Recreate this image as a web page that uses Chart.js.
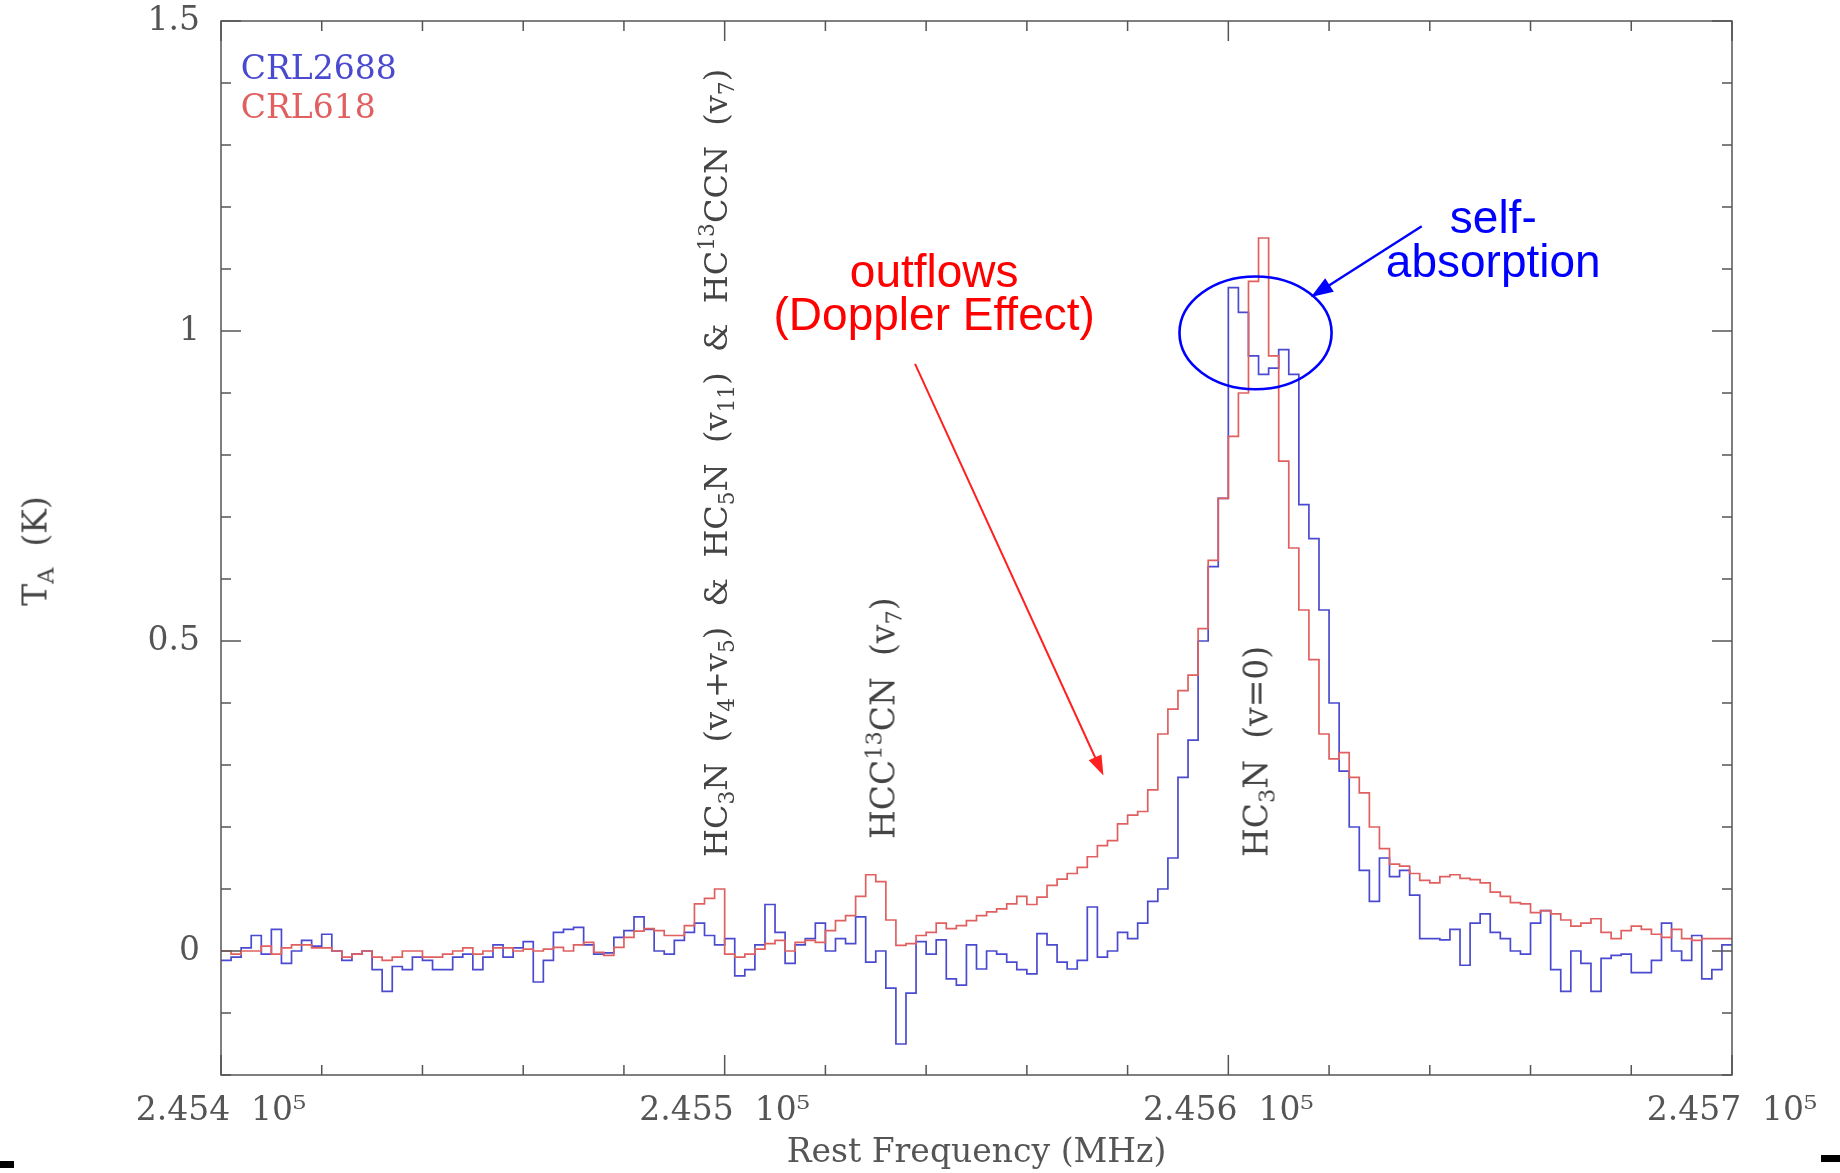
<!DOCTYPE html>
<html lang="en">
<head>
<meta charset="UTF-8">
<title>CRL2688 / CRL618 - HC3N</title>
<script src="https://cdn.jsdelivr.net/npm/chart.js"></script>
<style>
  html, body { margin: 0; padding: 0; background: #fff; }
  #wrap { position: relative; width: 1840px; height: 1173px; overflow: hidden; }
  #spec { position: absolute; left: 0; top: 0; }
  .note { position: absolute; white-space: pre; line-height: 1; }
  .serif { font-family: 'DejaVu Serif', serif; font-size: 33px; color: #444; }
  .sans { font-family: 'Liberation Sans', Arial, sans-serif; font-size: 46px; text-align: center; }
  .vert { transform-origin: 0 0; transform: rotate(-90deg) translateY(-50%); }
  .ctr { transform: translate(-50%, -50%); }
  .left { transform: translate(0, -50%); }
  sub, sup { font-size: 0.68em; line-height: 0; position: relative; vertical-align: baseline; }
  sub { top: 0.3em; }
  sup { top: -0.6em; }
  .mark { position: absolute; background: #000; }
</style>
</head>
<body>
<div id="wrap">
  <canvas id="spec" width="1840" height="1173"></canvas>

  <div class="note serif left" id="leg1" style="color:#4a4ad0">CRL2688</div>
  <div class="note serif left" id="leg2" style="color:#e06060">CRL618</div>

  <div class="note serif vert" id="lab1" style="font-size:32px">HC<sub>3</sub>N  (v<sub>4</sub>+v<sub>5</sub>)  &amp;  HC<sub>5</sub>N  (v<sub>11</sub>)  &amp;  HC<sup>13</sup>CCN  (v<sub>7</sub>)</div>
  <div class="note serif vert" id="lab2">HCC<sup>13</sup>CN  (v<sub>7</sub>)</div>
  <div class="note serif vert" id="lab3">HC<sub>3</sub>N  (v=0)</div>

  <div class="note sans ctr" id="txt1" style="color:#ff0000">outflows</div>
  <div class="note sans ctr" id="txt2" style="color:#ff0000">(Doppler Effect)</div>
  <div class="note sans ctr" id="txt3" style="color:#0000ff">self-</div>
  <div class="note sans ctr" id="txt4" style="color:#0000ff">absorption</div>

  <div class="note serif" id="ytitle" style="left:35px; top:551px; transform:translate(-50%,-50%) rotate(-90deg);">T<sub>A</sub>  (K)</div>

  <div class="mark" style="left:0; top:1161px; width:14px; height:7px;"></div>
  <div class="mark" style="left:1821px; top:1155px; width:19px; height:7px;"></div>
</div>

<script>
// channel grid of the spectrum (MHz)
const freqStart = 245400;
const chanWidth = 2;

// antenna temperature per channel (K)
const crl2688 = [
  -0.015, -0.01, 0.005, 0.025, -0.005, 0.035, -0.02, 0.0, 0.017, 0.008,
  0.027, 0.0, -0.015, -0.005, 0.0, -0.03, -0.065, -0.025, -0.03, -0.01,
  -0.015, -0.03, -0.03, -0.01, -0.005, -0.03, -0.01, 0.01, -0.01, 0.005,
  0.015, -0.05, -0.015, 0.03, 0.035, 0.038, 0.01, -0.005, -0.003, 0.022,
  0.033, 0.055, 0.035, 0.0, -0.005, 0.017, 0.03, 0.045, 0.025, 0.01,
  0.02, -0.04, -0.03, 0.01, 0.075, 0.03, -0.02, 0.01, 0.02, 0.045,
  0.0, 0.02, 0.012, 0.055, -0.018, 0.0, -0.06, -0.15, -0.068, 0.015,
  -0.005, 0.018, -0.045, -0.055, 0.01, -0.029, 0.0, -0.005, -0.018, -0.03,
  -0.037, 0.028, 0.01, -0.018, -0.029, -0.015, 0.071, -0.01, 0.0, 0.03,
  0.02, 0.045, 0.08, 0.1, 0.15, 0.28, 0.34, 0.5, 0.62, 0.73,
  1.07, 1.03, 0.96, 0.93, 0.94, 0.97, 0.93, 0.72, 0.665, 0.55,
  0.4, 0.29, 0.2, 0.13, 0.08, 0.15, 0.12, 0.13, 0.09, 0.02,
  0.02, 0.018, 0.035, -0.023, 0.045, 0.06, 0.03, 0.02, 0.0, -0.005,
  0.045, 0.065, -0.03, -0.065, 0.0, -0.02, -0.065, -0.012, -0.007, -0.005,
  -0.035, -0.035, -0.015, 0.045, 0.0, -0.015, 0.025, -0.045, -0.03, 0.01
];

const crl618 = [
  0.0, -0.005, 0.0, 0.0, 0.008, -0.005, 0.005, 0.01, 0.01, 0.005,
  0.005, 0.0, -0.01, -0.005, 0.0, -0.01, -0.015, -0.01, 0.0, 0.0,
  -0.01, -0.01, -0.005, 0.0, 0.005, -0.005, 0.0, 0.005, 0.005, 0.0,
  0.003, 0.0, 0.003, 0.006, 0.0, 0.01, 0.014, -0.002, -0.007, 0.006,
  0.022, 0.032, 0.036, 0.033, 0.025, 0.025, 0.041, 0.076, 0.085, 0.1,
  -0.005, -0.01, -0.005, 0.003, 0.012, 0.017, 0.0, 0.014, 0.017, 0.014,
  0.033, 0.049, 0.057, 0.088, 0.123, 0.112, 0.05, 0.009, 0.012, 0.025,
  0.03, 0.045, 0.036, 0.041, 0.049, 0.057, 0.063, 0.068, 0.076, 0.088,
  0.075, 0.087, 0.106, 0.116, 0.125, 0.135, 0.152, 0.17, 0.178, 0.205,
  0.219, 0.225, 0.26, 0.35, 0.39, 0.42, 0.445, 0.52, 0.63, 0.73,
  0.83, 0.9, 1.08, 1.15, 0.96, 0.79, 0.65, 0.55, 0.47, 0.35,
  0.31, 0.32, 0.28, 0.255, 0.2, 0.165, 0.14, 0.137, 0.125, 0.114,
  0.11, 0.12, 0.123, 0.117, 0.115, 0.11, 0.095, 0.088, 0.078, 0.076,
  0.062, 0.065, 0.06, 0.05, 0.04, 0.045, 0.052, 0.03, 0.02, 0.033,
  0.04, 0.035, 0.027, 0.022, 0.035, 0.02, 0.017, 0.02, 0.02, 0.02
];

// axis ranges and tick steps
const xRange = [245400, 245700];
const yRange = [-0.2, 1.5];
const xMajor = 100, xMinor = 20;
const yMajor = 0.5, yMinor = 0.1;

const blue = '#4a4ad0';
const red = '#e06060';

// histogram points: one per channel left edge, plus the closing edge
function toSteps(vals) {
  const pts = vals.map((v, i) => ({ x: freqStart + i * chanWidth, y: v }));
  pts.push({ x: freqStart + vals.length * chanWidth, y: vals[vals.length - 1] });
  return pts;
}

// box frame with inward ticks on all four sides
const frameTicks = {
  id: 'frameTicks',
  afterDatasetsDraw(chart) {
    const { ctx, chartArea: a, scales: { x, y } } = chart;
    ctx.save();
    ctx.strokeStyle = '#555';
    ctx.lineWidth = 1.5;
    ctx.strokeRect(a.left, a.top, a.right - a.left, a.bottom - a.top);
    ctx.beginPath();
    const nx = Math.round((xRange[1] - xRange[0]) / xMinor);
    for (let k = 0; k <= nx; k++) {
      const f = xRange[0] + k * xMinor;
      const px = x.getPixelForValue(f);
      const len = (k * xMinor) % xMajor === 0 ? 20 : 10;
      ctx.moveTo(px, a.bottom); ctx.lineTo(px, a.bottom - len);
      ctx.moveTo(px, a.top); ctx.lineTo(px, a.top + len);
    }
    const ny = Math.round((yRange[1] - yRange[0]) / yMinor);
    for (let k = 0; k <= ny; k++) {
      const v = Math.round((yRange[0] + k * yMinor) * 10) / 10;
      const py = y.getPixelForValue(v);
      const len = Math.abs(v / yMajor - Math.round(v / yMajor)) < 1e-6 ? 20 : 10;
      ctx.moveTo(a.left, py); ctx.lineTo(a.left + len, py);
      ctx.moveTo(a.right, py); ctx.lineTo(a.right - len, py);
    }
    ctx.stroke();
    ctx.restore();
  }
};

function drawArrow(ctx, x0, y0, x1, y1, color, lw, head, half) {
  const ang = Math.atan2(y1 - y0, x1 - x0);
  ctx.strokeStyle = color;
  ctx.fillStyle = color;
  ctx.lineWidth = lw;
  ctx.beginPath();
  ctx.moveTo(x0, y0);
  ctx.lineTo(x1 - Math.cos(ang) * head * 0.8, y1 - Math.sin(ang) * head * 0.8);
  ctx.stroke();
  ctx.beginPath();
  ctx.moveTo(x1, y1);
  ctx.lineTo(x1 - Math.cos(ang) * head - Math.sin(ang) * half, y1 - Math.sin(ang) * head + Math.cos(ang) * half);
  ctx.lineTo(x1 - Math.cos(ang) * head + Math.sin(ang) * half, y1 - Math.sin(ang) * head - Math.cos(ang) * half);
  ctx.closePath();
  ctx.fill();
}

// ellipse round the self-absorbed peak and the two arrows
const marks = {
  id: 'marks',
  afterDraw(chart) {
    const { ctx, scales: { x, y } } = chart;
    ctx.save();
    const cx = x.getPixelForValue(245605.4), cy = y.getPixelForValue(0.997);
    const rx = x.getPixelForValue(245605.4 + 15.1) - cx;
    const ry = y.getPixelForValue(0.997 - 0.091) - cy;
    ctx.strokeStyle = '#0000ff';
    ctx.lineWidth = 2.6;
    ctx.beginPath();
    ctx.ellipse(cx, cy, rx, ry, 0, 0, Math.PI * 2);
    ctx.stroke();
    drawArrow(ctx, x.getPixelForValue(245537.8), y.getPixelForValue(0.947),
      x.getPixelForValue(245575.2), y.getPixelForValue(0.283), '#ff2020', 2, 20, 7);
    drawArrow(ctx, x.getPixelForValue(245638.4), y.getPixelForValue(1.169),
      x.getPixelForValue(245616.4), y.getPixelForValue(1.055), '#0000ff', 2.4, 22, 8);
    ctx.restore();
  }
};

Chart.defaults.font.family = "'DejaVu Serif', serif";
Chart.defaults.color = '#555';

const chart = new Chart(document.getElementById('spec'), {
  type: 'line',
  data: {
    datasets: [
      { label: 'CRL618', data: toSteps(crl618), borderColor: red, borderWidth: 1.7,
        stepped: 'before', pointRadius: 0, fill: false, order: 0 },
      { label: 'CRL2688', data: toSteps(crl2688), borderColor: blue, borderWidth: 1.7,
        stepped: 'before', pointRadius: 0, fill: false, order: 1 }
    ]
  },
  options: {
    responsive: false,
    animation: false,
    layout: { padding: { top: 21, right: 108, bottom: 0, left: 0 } },
    plugins: { legend: { display: false }, tooltip: { enabled: false } },
    scales: {
      x: {
        type: 'linear',
        min: xRange[0], max: xRange[1],
        // tick marks are drawn by frameTicks; tickLength only spaces the labels
        grid: { display: false, drawTicks: true, tickLength: 17 },
        border: { display: false },
        ticks: {
          stepSize: xMajor, autoSkip: false, maxRotation: 0, padding: 0,
          font: { size: 33 }, color: '#555',
          callback: v => (v / 1e5).toFixed(3) + '  10\u2075'
        },
        title: { display: true, text: 'Rest Frequency (MHz)', font: { size: 33 }, color: '#555', padding: 0 },
        afterFit: s => { s.height = 98; }
      },
      y: {
        min: yRange[0], max: yRange[1],
        grid: { display: false, drawTicks: true, tickLength: 21 },
        border: { display: false },
        ticks: {
          stepSize: yMajor, autoSkip: false, padding: 0,
          font: { size: 33 }, color: '#555',
          callback: v => (v < 0 ? '' : String(Math.round(v * 10) / 10))
        },
        afterFit: s => { s.width = 221; }
      }
    }
  },
  plugins: [frameTicks, marks]
});

// put the text notes at their data positions
function place(id, f, v) {
  const el = document.getElementById(id);
  el.style.left = chart.scales.x.getPixelForValue(f) + 'px';
  el.style.top = chart.scales.y.getPixelForValue(v) + 'px';
}
place('leg1', 245403.9, 1.426);
place('leg2', 245403.9, 1.363);
place('lab1', 245498.3, 0.151);
place('lab2', 245531.4, 0.18);
place('lab3', 245605.4, 0.151);
place('txt1', 245541.6, 1.097);
place('txt2', 245541.6, 1.027);
place('txt3', 245652.6, 1.184);
place('txt4', 245652.6, 1.113);
</script>
</body>
</html>
